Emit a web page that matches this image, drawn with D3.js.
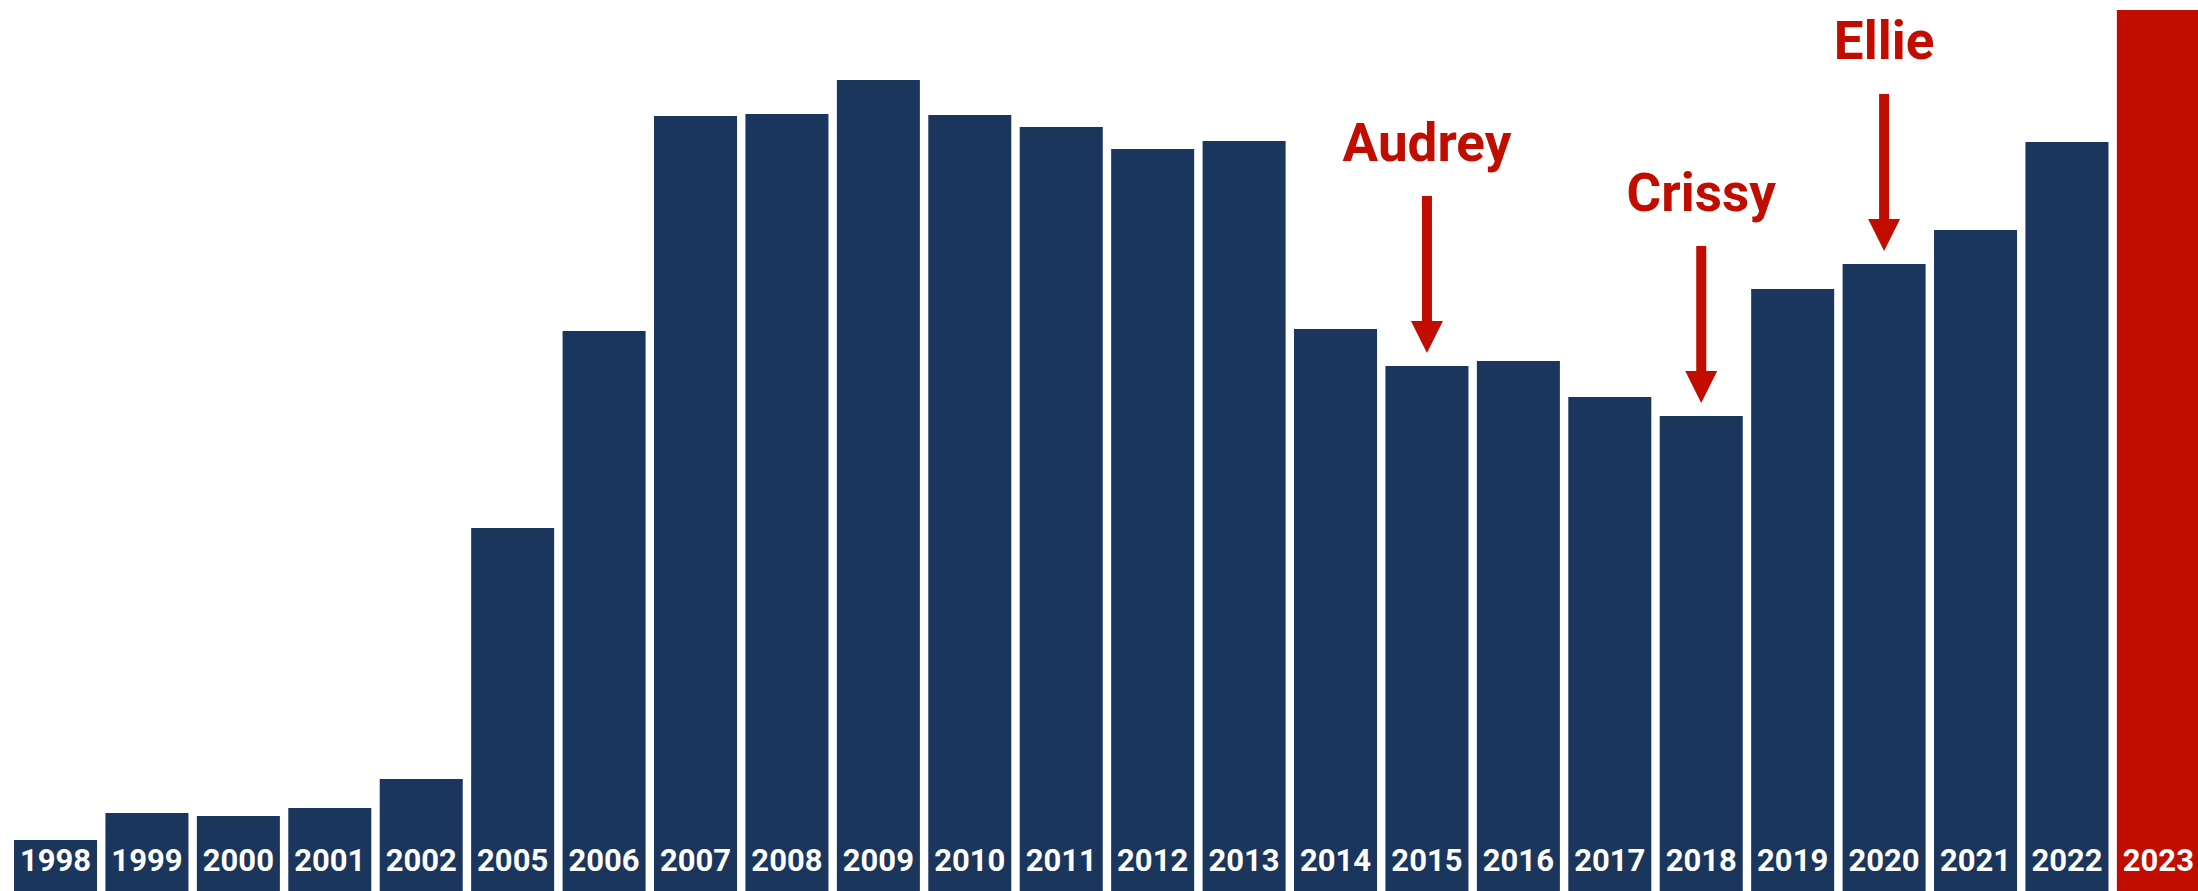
<!DOCTYPE html>
<html>
<head>
<meta charset="utf-8">
<script src="https://cdn.jsdelivr.net/npm/d3@7"></script>
<style>
  html, body { margin: 0; padding: 0; background: #ffffff; overflow: hidden; }
  svg { display: block; }
</style>
</head>
<body>
<svg id="chart" width="2198" height="891"></svg>
<script>
// Data (arbitrary units)
const years = ["1998","1999","2000","2001","2002","2005","2006","2007","2008","2009","2010","2011","2012","2013","2014","2015","2016","2017","2018","2019","2020","2021","2022","2023"];
const values = [51, 78, 75, 83, 112, 363, 560, 775, 777, 811, 776, 764, 742, 750, 562, 525, 530, 494, 475, 602, 627, 661, 749, 881];
const highlightYears = ["2023"];
const annotationYears = ["2015", "2018", "2020"];
const annotationLabels = ["Audrey", "Crissy", "Ellie"];

const W = 2198, H = 891;
const navy = "#1b365d", red = "#c00d00";

const svg = d3.select("#chart");

const x = d3.scaleBand()
  .domain(years)
  .range([9.8, 2204.1])
  .paddingInner(0.092)
  .paddingOuter(0.046);

const y = d3.scaleLinear()
  .domain([0, d3.max(values)])
  .range([H, 10]);

const data = years.map((yr, i) => ({ year: yr, value: values[i] }));

svg.append("g").selectAll("rect")
  .data(data)
  .join("rect")
  .attr("x", d => x(d.year))
  .attr("y", d => y(d.value))
  .attr("width", x.bandwidth())
  .attr("height", d => y(0) - y(d.value))
  .attr("fill", d => highlightYears.includes(d.year) ? red : navy);

// Year labels inside bars
svg.append("g").selectAll("text")
  .data(data)
  .join("text")
  .attr("x", d => x(d.year) + x.bandwidth() / 2)
  .attr("y", H - 20)
  .attr("text-anchor", "middle")
  .attr("font-family", "Roboto, 'Liberation Sans', sans-serif")
  .attr("font-weight", 700)
  .attr("font-size", 31)
  .attr("fill", "#ffffff")
  .text(d => d.year);

// Annotations
const tipGap = 13, arrowLen = 157, textGap = 35;
const headW = 32, headH = 32, shaftW = 10;
const ann = annotationYears.map((yr, i) => ({
  year: yr,
  label: annotationLabels[i],
  value: values[years.indexOf(yr)]
}));

const ag = svg.append("g").selectAll("g")
  .data(ann)
  .join("g");

ag.append("path")
  .attr("fill", red)
  .attr("d", d => {
    const cx = x(d.year) + x.bandwidth() / 2;
    const tip = y(d.value) - tipGap;
    const top = tip - arrowLen;
    const hb = tip - headH;
    return `M${cx - shaftW/2},${top} L${cx + shaftW/2},${top} L${cx + shaftW/2},${hb} ` +
           `L${cx + headW/2},${hb} L${cx},${tip} L${cx - headW/2},${hb} L${cx - shaftW/2},${hb} Z`;
  });

ag.append("text")
  .attr("x", d => x(d.year) + x.bandwidth() / 2)
  .attr("y", d => y(d.value) - tipGap - arrowLen - textGap)
  .attr("text-anchor", "middle")
  .attr("font-family", "Roboto, 'Liberation Sans', sans-serif")
  .attr("font-weight", 700)
  .attr("font-size", 53)
  .attr("fill", red)
  .text(d => d.label);
</script>
</body>
</html>
